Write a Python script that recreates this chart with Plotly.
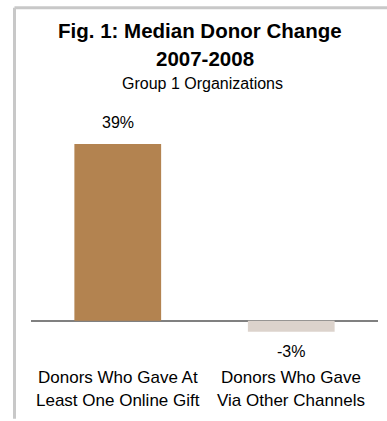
import plotly.graph_objects as go

# ---- data ----
categories = ["Donors Who Gave At\nLeast One Online Gift",
              "Donors Who Gave\nVia Other Channels"]
values = [39.0, -2.4]
value_labels = ["39%", "-3%"]
bar_colors = ["#B38350", "#DCD3CC"]
title_lines = ["Fig. 1: Median Donor Change", "2007-2008"]
subtitle = "Group 1 Organizations"

# ---- geometry (pixels) ----
W, H = 387, 421
L, R = 31, 378          # plot area x extent
y_min, y_max = -6, 41
ppu = 177 / 39.0        # pixels per unit
zero_px = 321
T = zero_px - y_max * ppu
B = zero_px - y_min * ppu

def px(xp):
    return (xp - L) / (R - L)

def py(yp):
    return (B - yp) / (B - T)

FONT = "Liberation Sans, Arial, sans-serif"

fig = go.Figure()
fig.add_trace(go.Bar(
    x=list(range(len(categories))), y=values,
    marker=dict(color=bar_colors, line=dict(width=0)),
    width=0.5, hoverinfo="skip", showlegend=False,
))

ann = []
# title
ann.append(dict(text="<b>%s</b>" % title_lines[0], x=px(200), y=py(30), font=dict(size=20.5)))
ann.append(dict(text="<b>%s</b>" % title_lines[1], x=px(205), y=py(58), font=dict(size=20.5)))
ann.append(dict(text=subtitle, x=px(202), y=py(83), font=dict(size=16)))
# value labels
for i, (v, lab) in enumerate(zip(values, value_labels)):
    if v >= 0:
        ann.append(dict(text=lab, x=i, xref="x", y=v, yref="y", yshift=22,
                        font=dict(size=16), yanchor="middle"))
    else:
        ann.append(dict(text=lab, x=i, xref="x", y=v, yref="y", yshift=-20,
                        font=dict(size=16), yanchor="middle"))
# category labels
for i, cat in enumerate(categories):
    for j, line in enumerate(cat.split("\n")):
        ann.append(dict(text=line, x=i, xref="x", y=py(377.5 + 23 * j),
                        font=dict(size=17)))

for a in ann:
    a.setdefault("xref", "paper")
    a.setdefault("yref", "paper")
    a.setdefault("yanchor", "middle")
    a["xanchor"] = "center"
    a["showarrow"] = False
    a["font"].update(family=FONT, color="#000000")
    fig.add_annotation(**a)

# frame (left and top border)
fig.add_shape(type="line", xref="paper", yref="paper",
              x0=px(14.5), x1=px(400), y0=py(7.5), y1=py(7.5),
              line=dict(color="#C8C8C8", width=3))
fig.add_shape(type="line", xref="paper", yref="paper",
              x0=px(14.5), x1=px(14.5), y0=py(7.5), y1=py(419),
              line=dict(color="#C8C8C8", width=3))

fig.update_layout(
    width=W, height=H,
    margin=dict(l=L, r=W - R, t=T, b=H - B, pad=0),
    paper_bgcolor="white", plot_bgcolor="white",
    bargap=0.5,
    xaxis=dict(range=[-0.5, len(categories) - 0.5], showticklabels=False,
               showgrid=False, zeroline=False, showline=False, ticks=""),
    yaxis=dict(range=[y_min, y_max], showticklabels=False, showgrid=False,
               zeroline=True, zerolinecolor="#808080", zerolinewidth=2,
               showline=False, ticks=""),
)

fig.write_html("out.html", config={"displayModeBar": False})
